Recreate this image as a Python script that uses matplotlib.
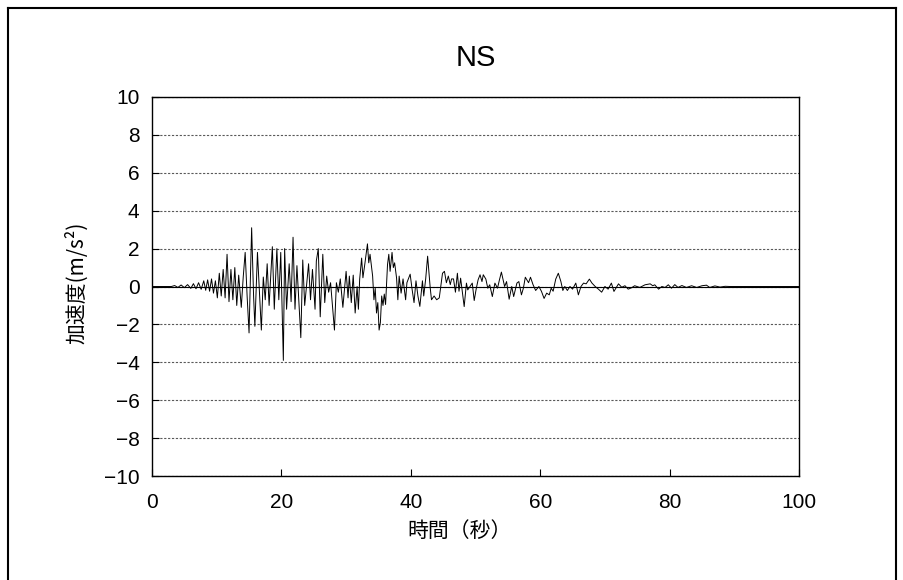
import matplotlib.pyplot as plt
from matplotlib.lines import Line2D

# ================================
# %% Data (read from the record)
# ++++++++++++++++++++++++++++++++

time_s = [
    0.0, 3.0, 3.5, 4.0, 4.5, 5.0, 5.5, 6.0, 6.4, 6.8, 7.2, 7.6, 8.0, 8.3, 8.6, 8.9,
    9.2, 9.5, 9.8, 10.1, 10.4, 10.7, 11.0, 11.3, 11.6, 11.9, 12.2, 12.5, 12.8, 13.1,
    13.4, 13.8, 14.1, 14.4, 14.7, 15.0, 15.4, 15.7, 15.9, 16.3, 16.6, 16.9, 17.2,
    17.5, 17.8, 18.1, 18.6, 18.9, 19.3, 19.6, 19.9, 20.3, 20.5, 20.8, 21.2, 21.5,
    21.8, 22.1, 22.4, 23.0, 23.3, 23.6, 24.2, 24.5, 24.8, 25.2, 25.4, 25.7, 26.0,
    26.4, 26.7, 27.0, 27.3, 27.6, 28.2, 28.5, 28.8, 29.1, 29.5, 30.0, 30.3, 30.5,
    30.8, 31.1, 31.4, 31.7, 31.9, 32.1, 32.4, 32.6, 32.9, 33.2, 33.3, 33.5, 33.7,
    34.1, 34.3, 34.5, 34.7, 34.9, 35.1, 35.3, 35.5, 35.7, 35.9, 36.1, 36.4, 36.6,
    36.8, 37.1, 37.3, 37.5, 37.8, 38.0, 38.2, 38.5, 38.8, 39.2, 39.4, 39.9, 40.2,
    40.5, 40.8, 41.1, 41.4, 41.8, 42.0, 42.3, 42.6, 43.0, 43.2, 43.6, 44.0, 44.4,
    44.9, 45.2, 45.5, 45.8, 46.1, 46.3, 46.6, 46.9, 47.2, 47.45, 47.7, 48.25, 48.6,
    48.8, 49.5, 49.8, 50.1, 50.4, 50.7, 51.0, 51.2, 51.6, 51.9, 52.2, 52.6, 53.0,
    53.4, 53.7, 54.0, 54.5, 54.8, 55.2, 55.6, 55.9, 56.4, 56.7, 57.1, 57.4, 57.7,
    58.2, 58.5, 58.9, 59.3, 59.8, 60.2, 60.6, 61.0, 61.4, 61.7, 62.0, 62.4, 62.8,
    63.2, 63.5, 63.8, 64.2, 64.6, 65.0, 65.5, 65.9, 66.3, 66.7, 67.1, 67.6, 68.0,
    68.5, 69.0, 69.5, 70.0, 70.5, 71.0, 71.4, 72.1, 72.6, 73.1, 73.6, 74.1, 74.6,
    75.4, 76.2, 77.0, 77.4, 77.7, 78.3, 78.8, 79.3, 79.8, 80.3, 80.8, 81.3, 81.9,
    82.6, 83.4, 84.2, 85.0, 85.7, 86.2, 87.0, 87.8, 88.6, 89.3, 100.0,
]

accel = [
    0.0, 0.0, 0.05, -0.05, 0.08, -0.06, 0.1, -0.1, 0.15, -0.12, 0.2, -0.15, 0.3, -0.2, 0.35, -0.25,
    0.4, -0.35, 0.3, -0.6, 0.7, -0.5, 0.9, -0.6, 1.7, -0.8, 0.9, -0.7, 1.0, -1.0,
    0.6, -1.1, 0.5, 1.8, -0.5, -2.45, 3.1, -0.5, -2.1, 1.8, -0.3, -2.3, 0.5,
    -0.7, 1.2, -1.0, 2.1, -1.2, 2.0, -0.7, 1.8, -3.9, 2.0, -1.2, 1.2, -0.8,
    2.6, -1.2, 1.1, -2.7, 1.4, -1.0, 1.2, -0.7, 0.9, -1.2, 1.35, 2.0, -1.6,
    1.7, -0.85, 0.55, -0.3, 0.2, -2.3, 0.2, -0.3, 0.4, -1.1, 0.8, -0.6, 0.55,
    -0.85, 0.6, -1.4, 0.0, -1.2, 0.4, 1.5, 0.46, 1.2, 2.0, 2.25, 1.25, 1.7,
    0.55, -0.7, -0.1, -1.4, -0.85, -2.3, -1.9, -0.5, -1.0, -0.4, -0.95, 1.15, 1.7,
    0.8, 1.8, 1.0, 1.25, 0.45, -0.7, 0.55, -0.35, 0.4, -0.7, 0.2, 0.65, -0.15,
    -0.85, 0.3, -0.5, -1.05, 0.3, -0.5, 0.4, 1.6, -0.07, -0.7, -0.5, -0.7, -0.6,
    0.7, 0.8, 0.2, 0.55, 0.1, 0.4, 0.4, -0.3, 0.7, -0.25, 0.44, -1.06, 0.18,
    -0.18, 0.18, -0.74, -0.14, 0.35, 0.62, 0.26, 0.62, 0.39, -0.09, 0.09, -0.53, 0.18,
    -0.09, 0.35, 0.76, 0.0, 0.26, -0.67, 0.0, -0.53, 0.18, 0.26, -0.44, -0.09, 0.49,
    0.2, 0.49, 0.09, -0.21, 0.0, -0.26, -0.63, -0.35, -0.44, -0.09, -0.25, 0.39, 0.7,
    0.26, -0.21, 0.0, -0.21, 0.0, -0.14, 0.18, -0.44, 0.0, 0.18, 0.14, 0.39, 0.18,
    0.0, -0.14, -0.3, 0.0, -0.14, 0.18, -0.26, 0.14, -0.04, 0.04, -0.14, -0.07, 0.04,
    -0.05, 0.09, 0.14, 0.04, 0.09, -0.14, 0.0, -0.05, 0.09, -0.09, 0.1, -0.05, 0.05,
    -0.05, 0.04, -0.05, 0.04, 0.07, -0.05, 0.03, -0.03, 0.01, 0.0, 0.0,
]

x_ticks = [0, 20, 40, 60, 80, 100]
y_ticks = [-10, -8, -6, -4, -2, 0, 2, 4, 6, 8, 10]

# ================================
# %% Plot
# ++++++++++++++++++++++++++++++++

plt.rcParams["font.family"] = ["Liberation Sans", "Noto Sans CJK JP", "DejaVu Sans"]
jp_font = ["Noto Sans CJK JP", "DejaVu Sans"]

fig = plt.figure(figsize=(9.04, 5.80), dpi=100)
ax = fig.add_axes([152 / 904, 104 / 580, 647 / 904, 379 / 580])

ax.set_xlim(0, 100)
ax.set_ylim(-10, 10)
ax.set_xticks(x_ticks)
ax.set_yticks(y_ticks)
ax.set_yticklabels([str(v).replace("-", "\u2212") for v in y_ticks])

ax.grid(axis="y", color="0.35", linestyle=(0, (2, 1.5)), lw=0.8)
ax.axhline(0, color="black", lw=0.8, zorder=2)
ax.plot(time_s, accel, color="black", lw=0.7, zorder=3)

ax.tick_params(direction="in", length=5, width=0.8, labelsize=15)
ax.tick_params(axis="x", pad=12)
ax.tick_params(axis="y", pad=9)
for sp in ax.spines.values():
    sp.set_linewidth(1.0)

ax.set_title("NS", fontsize=21, pad=22)
ax.set_xlabel("時間（秒）", fontsize=15, family=jp_font)
ax.xaxis.set_label_coords(0.476, -0.115)
ax.set_ylabel("加速度(m/s²)", fontsize=15, family=jp_font)
ax.yaxis.set_label_coords(-0.098, 0.51)

# outer frame of the figure
for xs, ys in [([8 / 904, 8 / 904], [0, 1 - 8 / 580]),
               ([8 / 904, 896 / 904], [1 - 8 / 580, 1 - 8 / 580]),
               ([896 / 904, 896 / 904], [0, 1 - 8 / 580])]:
    fig.add_artist(Line2D(xs, ys, transform=fig.transFigure, color="black", lw=1.5))

fig.savefig("out.png", dpi=100)
